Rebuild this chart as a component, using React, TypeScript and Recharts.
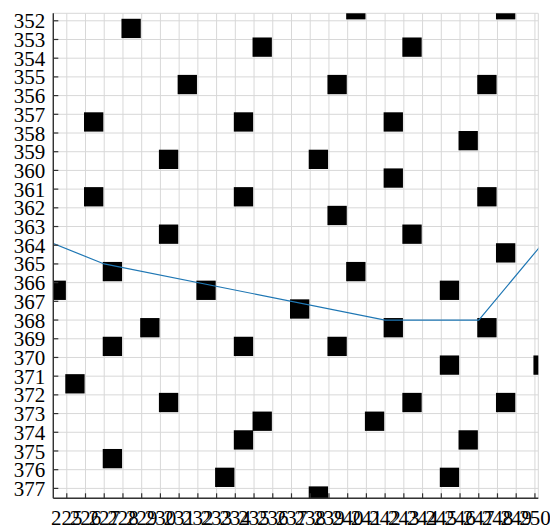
import React from 'react';
import { LineChart, Line, XAxis, YAxis, CartesianGrid, ReferenceArea } from 'recharts';

// Column / row tick values
const xTicks = [225, 226, 227, 228, 229, 230, 231, 232, 233, 234, 235, 236, 237, 238, 239, 240, 241, 242, 243, 244, 245, 246, 247, 248, 249, 250];
const yTicks = [352, 353, 354, 355, 356, 357, 358, 359, 360, 361, 362, 363, 364, 365, 366, 367, 368, 369, 370, 371, 372, 373, 374, 375, 376, 377];

// Occupied cells (lower-left corner of each unit cell)
const cellX = [228, 240, 248, 235, 243, 231, 239, 247, 226, 234, 242, 246, 230, 238, 242, 226, 234, 247, 239, 230, 243, 248, 227, 240, 224, 232, 245, 237, 229, 242, 247, 227, 234, 239, 245, 250, 225, 230, 243, 248, 235, 241, 234, 246, 227, 233, 245, 238];
const cellY = [352, 351, 351, 353, 353, 355, 355, 355, 357, 357, 357, 358, 359, 359, 360, 361, 361, 361, 362, 363, 363, 364, 365, 365, 366, 366, 366, 367, 368, 368, 368, 369, 369, 369, 370, 370, 371, 372, 372, 372, 373, 373, 374, 374, 375, 376, 376, 377];

// Path waypoints
const routeX = [222, 227, 242, 247, 252];
const routeY = [363, 365, 368, 368, 362];

const route = routeX.map((x, i) => ({ x, y: routeY[i] }));

// Layout
const W = 550;
const H = 529;
const MARGIN = { top: 13.3, right: 11.7, bottom: 0, left: 0 };
const YAXIS_W = 53.3;
const XAXIS_H = 30.7;
const PLOT = {
  left: MARGIN.left + YAXIS_W,
  top: MARGIN.top,
  right: W - MARGIN.right,
  bottom: H - MARGIN.bottom - XAXIS_H,
};

const FONT = '"Liberation Serif", "DejaVu Serif", serif';
const AXIS = '#333333';
const TICK_LEN = 5;
const X_LABEL_GAP = 12.2;
const Y_LABEL_GAP = 8;

// Filled cell, kept inside the plotting frame
const CellShape = (p: any) => {
  const x0 = Math.max(p.x - 1.5, PLOT.left);
  const y0 = Math.max(p.y - 2, PLOT.top);
  const x1 = Math.min(p.x + p.width - 0.9, PLOT.right);
  const y1 = Math.min(p.y + p.height - 1.4, PLOT.bottom);
  if (x1 <= x0 || y1 <= y0) return null;
  return <rect x={x0} y={y0} width={x1 - x0} height={y1 - y0} fill="#000000" />;
};

// Inward tick + label below the frame
const BottomTick = (p: any) => {
  const base = p.y - X_LABEL_GAP;
  return (
    <g>
      <line x1={p.x} x2={p.x} y1={base} y2={base - TICK_LEN} stroke={AXIS} strokeWidth={1.2} />
      <text x={p.x} y={p.y} dy="0.71em" textAnchor="middle" fontFamily={FONT} fontSize={21} fill="#000000">
        {p.payload.value}
      </text>
    </g>
  );
};

const LeftTick = (p: any) => {
  const base = p.x + Y_LABEL_GAP;
  return (
    <g>
      <line x1={base} x2={base + TICK_LEN} y1={p.y} y2={p.y} stroke={AXIS} strokeWidth={1.2} />
      <text x={p.x} y={p.y} dy="0.36em" textAnchor="end" fontFamily={FONT} fontSize={21} fill="#000000">
        {p.payload.value}
      </text>
    </g>
  );
};

const TopTick = (p: any) => (
  <line x1={p.x} x2={p.x} y1={p.y} y2={p.y + TICK_LEN} stroke={AXIS} strokeWidth={1.2} />
);

const RightTick = (p: any) => (
  <line x1={p.x} x2={p.x - TICK_LEN} y1={p.y} y2={p.y} stroke={AXIS} strokeWidth={1.2} />
);

export default function App() {
  return (
    <div style={{ position: 'absolute', left: 0, top: 0, width: W, height: H, background: '#ffffff' }}>
      <LineChart width={W} height={H} data={route} margin={MARGIN}>
        <CartesianGrid xAxisId="b" yAxisId="l" stroke="#d8d8d8" strokeWidth={1} />
        <XAxis
          xAxisId="b"
          dataKey="x"
          type="number"
          domain={[224.28, 250.18]}
          allowDataOverflow
          ticks={xTicks}
          interval={0}
          height={XAXIS_H}
          tickSize={0}
          tickMargin={X_LABEL_GAP}
          tick={BottomTick}
          tickLine={false}
          axisLine={{ stroke: AXIS, strokeWidth: 1.4 }}
        />
        <XAxis
          xAxisId="t"
          orientation="top"
          dataKey="x"
          type="number"
          domain={[224.28, 250.18]}
          allowDataOverflow
          ticks={xTicks}
          interval={0}
          height={0}
          tickSize={0}
          tickMargin={0}
          tick={TopTick}
          tickLine={false}
          axisLine={{ stroke: AXIS, strokeWidth: 1.4 }}
        />
        <YAxis
          yAxisId="l"
          dataKey="y"
          type="number"
          reversed
          domain={[351.6, 377.53]}
          allowDataOverflow
          ticks={yTicks}
          interval={0}
          width={YAXIS_W}
          tickSize={0}
          tickMargin={Y_LABEL_GAP}
          tick={LeftTick}
          tickLine={false}
          axisLine={{ stroke: AXIS, strokeWidth: 1.4 }}
        />
        <YAxis
          yAxisId="r"
          orientation="right"
          dataKey="y"
          type="number"
          reversed
          domain={[351.6, 377.53]}
          allowDataOverflow
          ticks={yTicks}
          interval={0}
          width={0}
          tickSize={0}
          tickMargin={0}
          tick={RightTick}
          tickLine={false}
          axisLine={{ stroke: AXIS, strokeWidth: 1.4 }}
        />
        {cellX.map((cx, i) => (
          <ReferenceArea
            key={i}
            xAxisId="b"
            yAxisId="l"
            x1={cx}
            x2={cx + 1}
            y1={cellY[i]}
            y2={cellY[i] + 1}
            ifOverflow="visible"
            shape={CellShape}
          />
        ))}
        <Line
          xAxisId="b"
          yAxisId="l"
          dataKey="y"
          stroke="#1f77b4"
          strokeWidth={1.2}
          dot={false}
          isAnimationActive={false}
        />
      </LineChart>
    </div>
  );
}
